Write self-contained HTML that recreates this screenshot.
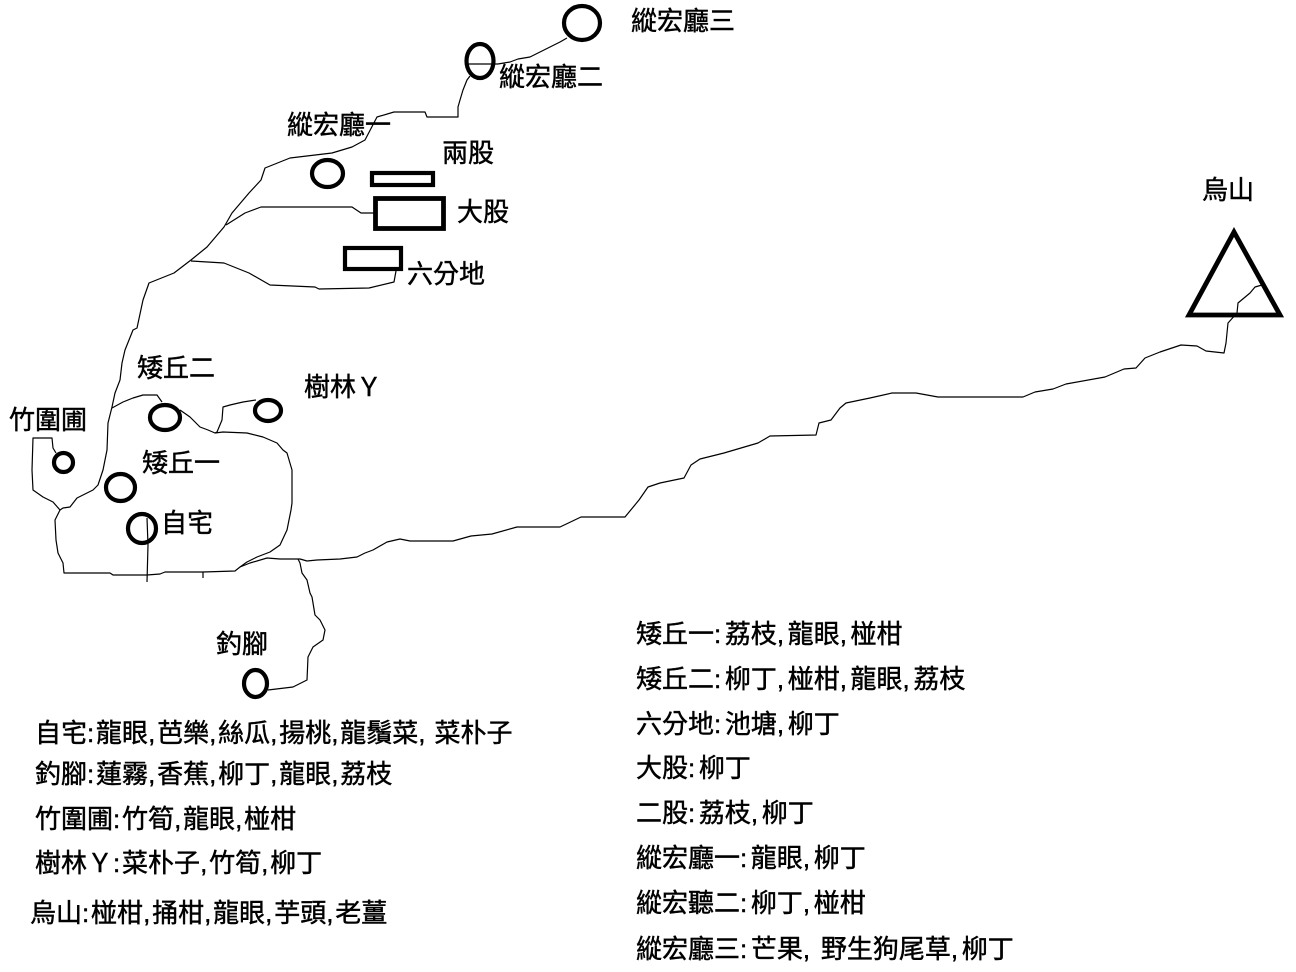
<!DOCTYPE html>
<html>
<head>
<meta charset="utf-8">
<style>
  html, body { margin: 0; padding: 0; background: #fff; }
  body { width: 1296px; height: 972px; overflow: hidden; }
  svg { display: block; }
  text { font-family: "Liberation Sans", "Noto Sans CJK TC", "Noto Sans CJK SC", sans-serif; font-size: 26px; fill: #000; stroke: #000; stroke-width: 0.45px; }
  .L tspan.p { letter-spacing: 1.8px; }
  .R tspan.p { letter-spacing: 3.6px; }
</style>
</head>
<body>
<svg width="1296" height="972" viewBox="0 0 1296 972" xmlns="http://www.w3.org/2000/svg">
  <rect x="0" y="0" width="1296" height="972" fill="#fff"/>

  <g fill="none" stroke="#000" stroke-width="1.2" stroke-linejoin="round">
    <polyline points="567,38 560,42 550,47 540,52 530,57 518,59 510,62 498,64"/>
    <line x1="468" y1="64" x2="498" y2="64"/>
    <polyline points="470,76 467,80 463,90 460,100 458,107 458,117 427,117 425,112 394,112 377,117 365,140 352,147 332,153 290,158 265,168 261,180 249,193 232,213 224,227 207,247 191,260 174,273 149,283 143,300 137,328 133,330 125,350 122,363 120,380 115,393 112,407 108,423 107,450 103,470 98,485 93,490 87,493 77,498 70,507 63,508 60,510 55,520 56,540 58,553 63,563 64,573 110,573 113,575 147,575 160,574 165,572 203,572 235,571 240,567 250,563 267,558 280,559 300,559 307,561 317,560 340,559 357,557 365,553 373,550 387,542 400,539 410,541 453,541 471,536 492,534 517,527 560,527 581,517 625,517 639,500 648,487 660,483 684,478 691,465 700,459 724,453 758,443 770,436 816,435 819,423 831,420 840,408 846,403 870,398 892,393 916,393 938,397 1023,397 1035,392 1053,389 1066,384 1105,377 1124,369 1136,368 1145,358 1160,352 1181,345 1197,346 1206,351 1224,353 1226,343 1228,323 1237,313 1238,303 1250,293 1255,287 1262,285"/>
    <polyline points="226,225 245,213 261,207 352,207 361,213 375,213"/>
    <polyline points="191,261 224,263 249,273 270,285 315,287 319,289 369,288 394,282 396,271"/>
    <polyline points="60,510 53,502 43,497 33,490 32,470 33,438 52,438 53,448 56,453"/>
    <polyline points="112,408 123,402 133,398 143,395 157,395 162,402"/>
    <polyline points="180,410 190,417 200,427 208,430 215,433 223,432 247,433 263,437 277,443 283,450 287,453 292,470 292,503 291,510 287,530 280,545 270,552 257,557 247,562 240,567"/>
    <polyline points="215,433 217,432 222,420 223,407 230,405 243,402 256,400"/>
    <polyline points="147,518 148,545 147,582"/>
    <line x1="203" y1="572" x2="203" y2="578"/>
    <polyline points="298,559 300,563 302,573 307,580 310,593 312,597 315,615 320,620 325,630 323,640 313,647 308,657 307,680 293,687 268,690"/>
  </g>

  <g fill="none" stroke="#000" stroke-width="4.2">
    <ellipse cx="582" cy="23" rx="18" ry="17"/>
    <ellipse cx="480" cy="61" rx="13.5" ry="17"/>
    <ellipse cx="327.5" cy="173.5" rx="15.5" ry="13.5"/>
    <ellipse cx="165" cy="417.5" rx="15" ry="12.5"/>
    <ellipse cx="268" cy="410.5" rx="13" ry="10.5"/>
    <ellipse cx="63.5" cy="462.5" rx="9.5" ry="9.5"/>
    <ellipse cx="120.5" cy="487.5" rx="14.5" ry="13.5"/>
    <ellipse cx="142" cy="528.5" rx="14" ry="14.5"/>
    <ellipse cx="255.5" cy="683.5" rx="11.5" ry="13.5"/>
    <rect x="372" y="173" width="61" height="12"/>
    <rect x="375.5" y="198.5" width="68" height="30" stroke-width="4.8"/>
    <rect x="345" y="248" width="56" height="21"/>
    <polygon points="1234,232 1189,315 1280,315" stroke-width="4.8" stroke-linejoin="miter"/>
  </g>

  <text x="631" y="30">縱宏廳三</text>
  <text x="499" y="86">縱宏廳二</text>
  <text x="287" y="134">縱宏廳一</text>
  <text x="442" y="162">兩股</text>
  <text x="457" y="221">大股</text>
  <text x="407" y="283">六分地</text>
  <text x="1202" y="199">烏山</text>
  <text x="137" y="377">矮丘二</text>
  <text x="304" y="396">樹林Ｙ</text>
  <text x="9" y="429">竹圍圃</text>
  <text x="142" y="472">矮丘一</text>
  <text x="161" y="532">自宅</text>
  <text x="216" y="653">釣腳</text>

  <g class="L">
    <text x="35" y="742">自宅<tspan class="p">:</tspan>龍眼<tspan class="p">,</tspan>芭樂<tspan class="p">,</tspan>絲瓜<tspan class="p">,</tspan>揚桃<tspan class="p">,</tspan>龍鬚菜<tspan class="p">,</tspan> 菜朴子</text>
    <text x="35" y="783">釣腳<tspan class="p">:</tspan>蓮霧<tspan class="p">,</tspan>香蕉<tspan class="p">,</tspan>柳丁<tspan class="p">,</tspan>龍眼<tspan class="p">,</tspan>荔枝</text>
    <text x="35" y="828">竹圍圃<tspan class="p">:</tspan>竹筍<tspan class="p">,</tspan>龍眼<tspan class="p">,</tspan>椪柑</text>
    <text x="35" y="872">樹林Ｙ<tspan class="p">:</tspan>菜朴子<tspan class="p">,</tspan>竹筍<tspan class="p">,</tspan>柳丁</text>
    <text x="30" y="922">烏山<tspan class="p">:</tspan>椪柑<tspan class="p">,</tspan>捅柑<tspan class="p">,</tspan>龍眼<tspan class="p">,</tspan>芋頭<tspan class="p">,</tspan>老薑</text>
  </g>

  <g class="R">
    <text x="636" y="643">矮丘一<tspan class="p">:</tspan>荔枝<tspan class="p">,</tspan>龍眼<tspan class="p">,</tspan>椪柑</text>
    <text x="636" y="688">矮丘二<tspan class="p">:</tspan>柳丁<tspan class="p">,</tspan>椪柑<tspan class="p">,</tspan>龍眼<tspan class="p">,</tspan>荔枝</text>
    <text x="636" y="733">六分地<tspan class="p">:</tspan>池塘<tspan class="p">,</tspan>柳丁</text>
    <text x="636" y="777">大股<tspan class="p">:</tspan>柳丁</text>
    <text x="636" y="822">二股<tspan class="p">:</tspan>荔枝<tspan class="p">,</tspan>柳丁</text>
    <text x="636" y="867">縱宏廳一<tspan class="p">:</tspan>龍眼<tspan class="p">,</tspan>柳丁</text>
    <text x="636" y="912">縱宏聽二<tspan class="p">:</tspan>柳丁<tspan class="p">,</tspan>椪柑</text>
    <text x="636" y="958">縱宏廳三<tspan class="p">:</tspan>芒果<tspan class="p">,</tspan> 野生狗尾草<tspan class="p">,</tspan>柳丁</text>
  </g>
</svg>
</body>
</html>
